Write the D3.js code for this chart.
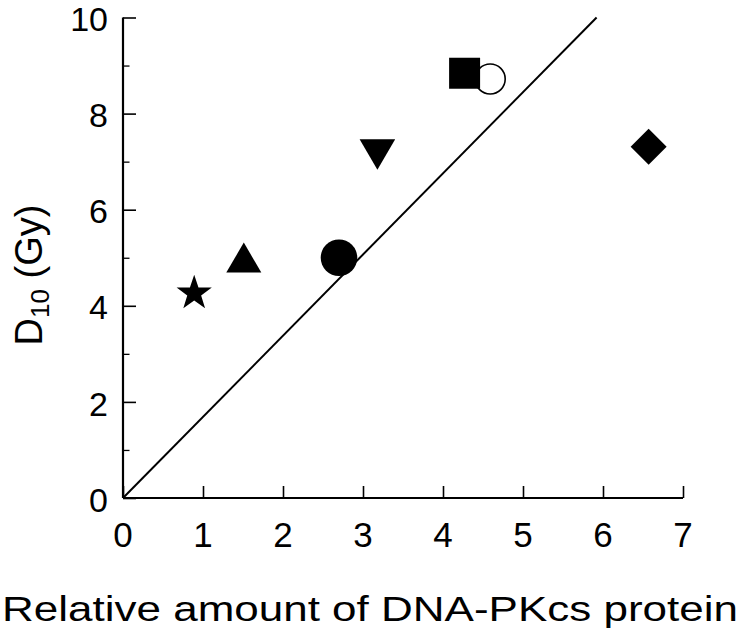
<!DOCTYPE html>
<html>
<head>
<meta charset="utf-8">
<script src="https://cdn.jsdelivr.net/npm/d3@7"></script>
<style>
  html, body { margin: 0; padding: 0; background: #fff; }
  svg { display: block; }
  text { font-family: "Liberation Sans", Arial, Helvetica, sans-serif; fill: #000; }
</style>
</head>
<body>
<svg id="chart" width="740" height="629"></svg>
<script>
// ---- data ----
const markerShapes = ["star", "triangle", "circle", "triangleDown", "openCircle", "square", "diamond"];
const xValues = [0.89, 1.51, 2.70, 3.18, 4.59, 4.27, 6.57];
const yValues = [4.26, 4.90, 5.00, 7.25, 8.72, 8.84, 7.31];
const fitX = [0, 5.92];
const fitY = [0, 10];
const xTicks = [0, 1, 2, 3, 4, 5, 6, 7];
const yMajorTicks = [0, 2, 4, 6, 8, 10];
const yMinorTicks = [1, 3, 5, 7, 9];
const xTitle = "Relative amount of DNA-PKcs protein";

const svg = d3.select("#chart");
const x = d3.scaleLinear().domain([0, 7]).range([123, 683]);
const y = d3.scaleLinear().domain([0, 10]).range([498, 17.5]);

// axes
const gx = svg.append("g").attr("transform", `translate(0,${y(0)})`)
  .call(d3.axisBottom(x).tickValues(xTicks).tickSize(-12).tickFormat(""));
gx.select(".domain").attr("d", `M${x(0)},0H${x(7)}`).attr("stroke-width", 2.2);
gx.selectAll(".tick line").attr("stroke-width", 1.6);

const gy = svg.append("g").attr("transform", `translate(${x(0)},0)`)
  .call(d3.axisLeft(y).tickValues(yMajorTicks).tickSize(-13).tickFormat(""));
gy.select(".domain").attr("d", `M0,${y(0)}V${y(10)}`).attr("stroke-width", 2.2);
gy.selectAll(".tick line").attr("stroke-width", 1.6);
const gy2 = svg.append("g").attr("transform", `translate(${x(0)},0)`)
  .call(d3.axisLeft(y).tickValues(yMinorTicks).tickSize(-6.5).tickFormat(""));
gy2.select(".domain").remove();
gy2.selectAll(".tick line").attr("stroke-width", 1.3);

// tick labels
svg.append("g").selectAll("text").data(xTicks).join("text")
  .attr("x", d => x(d)).attr("y", 547)
  .attr("text-anchor", "middle").attr("font-size", 35)
  .text(d => d);
svg.append("g").selectAll("text").data(yMajorTicks).join("text")
  .attr("x", 108).attr("y", d => y(d)).attr("dy", "0.4em")
  .attr("text-anchor", "end").attr("font-size", 34)
  .text(d => d);

// axis titles
svg.append("text").attr("x", 370).attr("y", 621).attr("text-anchor", "middle")
  .attr("font-size", 35).attr("textLength", 736).attr("lengthAdjust", "spacingAndGlyphs")
  .text(xTitle);
const yt = svg.append("text").attr("transform", "translate(42,275) rotate(-90)")
  .attr("text-anchor", "middle").attr("font-size", 38);
yt.append("tspan").text("D");
yt.append("tspan").attr("font-size", 26).attr("dy", 7).text("10");
yt.append("tspan").attr("dy", -7).text(" (Gy)");

// fit line
svg.append("path")
  .attr("d", d3.line().x(d => x(d[0])).y(d => y(d[1]))(fitX.map((v, i) => [v, fitY[i]])))
  .attr("stroke", "#000").attr("stroke-width", 2).attr("fill", "none");

// markers
function shapePath(s) {
  if (s === "star") {
    const R = 18.5, r = 7.3, pts = [];
    for (let i = 0; i < 10; i++) {
      const a = -Math.PI / 2 + i * Math.PI / 5, rr = i % 2 ? r : R;
      pts.push([rr * Math.cos(a), rr * Math.sin(a)]);
    }
    return "M" + pts.map(p => p.join(",")).join("L") + "Z";
  }
  if (s === "triangle") return "M0,-20L17.5,10L-17.5,10Z";
  if (s === "triangleDown") return "M0,20L17.8,-10.3L-17.8,-10.3Z";
  if (s === "square") return "M-15.5,-15.5H15.5V15.5H-15.5Z";
  if (s === "diamond") return "M0,-18L18,0L0,18L-18,0Z";
  if (s === "circle") return d3.arc()({innerRadius: 0, outerRadius: 18.3, startAngle: 0, endAngle: 2 * Math.PI});
  if (s === "openCircle") return d3.arc()({innerRadius: 0, outerRadius: 15, startAngle: 0, endAngle: 2 * Math.PI});
}
const pts = markerShapes.map((s, i) => ({s, x: xValues[i], y: yValues[i]}));
svg.append("g").selectAll("path").data(pts).join("path")
  .attr("transform", d => `translate(${x(d.x)},${y(d.y)})`)
  .attr("d", d => shapePath(d.s))
  .attr("fill", d => d.s === "openCircle" ? "#fff" : "#000")
  .attr("stroke", "#000")
  .attr("stroke-width", d => d.s === "openCircle" ? 1.6 : 0);
</script>
</body>
</html>
